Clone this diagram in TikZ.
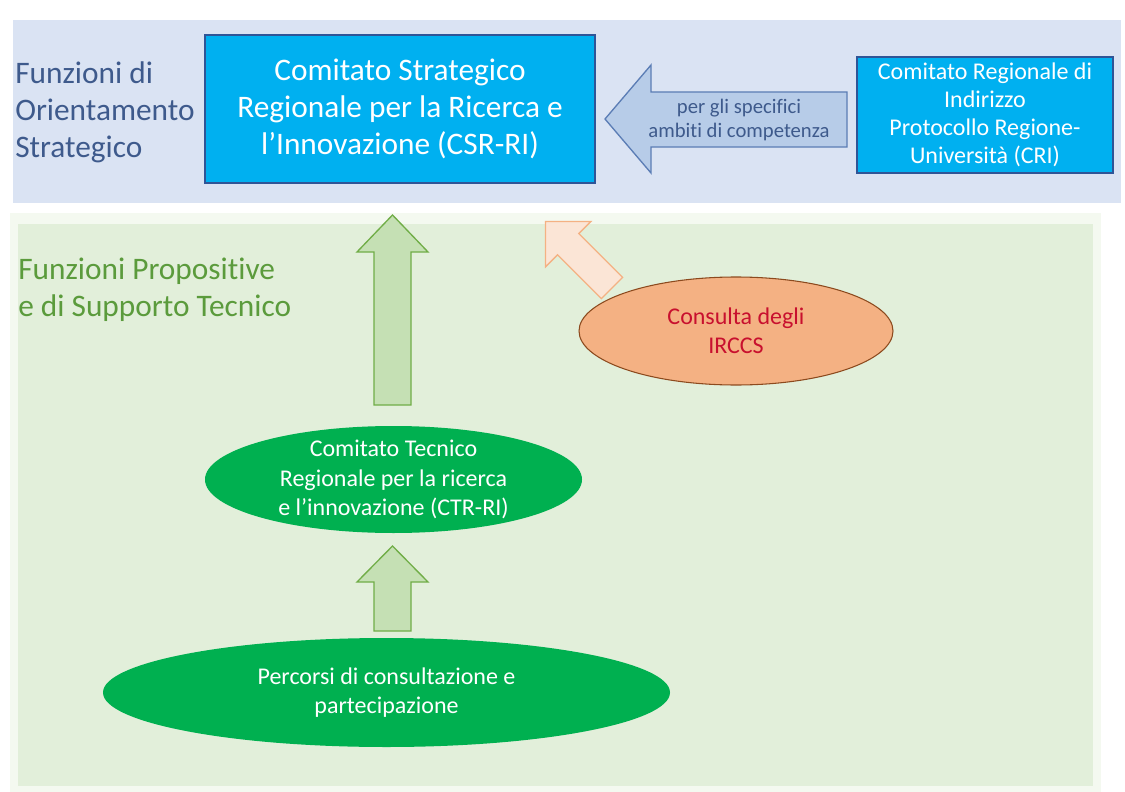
\documentclass[tikz,border=0pt]{standalone}
\usepackage{fontspec}
\setmainfont{Carlito}[Ligatures={NoCommon}]
\usetikzlibrary{shapes.geometric}
\definecolor{bandblue}{HTML}{DAE3F3}
\definecolor{boxblue}{HTML}{00B0F0}
\definecolor{boxedge}{HTML}{2F5597}
\definecolor{titleblue}{HTML}{3E5A8C}
\definecolor{arrowblue}{HTML}{B7CCE8}
\definecolor{arrowedge}{HTML}{5B7DB5}
\definecolor{bandgreen}{HTML}{E2EFDA}
\definecolor{rimgreen}{HTML}{F4F9F0}
\definecolor{titlegreen}{HTML}{5B9B3C}
\definecolor{arrowgreen}{HTML}{C5E0B4}
\definecolor{arrowgreenedge}{HTML}{70AD47}
\definecolor{ellgreen}{HTML}{00B050}
\definecolor{orangefill}{HTML}{F4B183}
\definecolor{orangeedge}{HTML}{8C4A1E}
\definecolor{peachfill}{HTML}{FBE5D6}
\definecolor{peachedge}{HTML}{F4B183}
\definecolor{darkred}{HTML}{C8102E}
\tikzset{
  bluebox/.style={draw=boxedge, line width=0.9pt, fill=boxblue, text=white, align=center, inner sep=0pt},
  bandtitle/.style={anchor=west, align=left, inner sep=0pt, font=\fontsize{23.5}{27.75}\selectfont},
  greenarrow/.style={draw=arrowgreenedge, fill=arrowgreen, line width=1pt, line join=miter},
  ellgreenshape/.style={ellipse, fill=ellgreen, inner sep=0pt},
  elltext/.style={align=center, inner sep=0pt, text=white, font=\fontsize{18}{22}\selectfont},
}
\begin{document}
\begin{tikzpicture}[x=0.75pt,y=-0.75pt]
\useasboundingbox (0,0) rectangle (1125,792);
\fill[white] (0,0) rectangle (1125,792);
% bands
\fill[bandblue] (13,20) rectangle (1121,203);
\fill[rimgreen] (10,213) rectangle (1101,792);
\fill[bandgreen] (18,224) rectangle (1093,786);

% titles
\node[bandtitle, text=titleblue] (toptitle) at (15,112) {Funzioni di\\Orientamento\\Strategico};
\node[bandtitle, text=titlegreen] (greentitle) at (18,290) {Funzioni Propositive\\e di Supporto Tecnico};

% top boxes
\node[bluebox, minimum width=292.5pt, minimum height=111pt, font=\fontsize{23.5}{27.75}\selectfont] (csr) at (400,109)
  {Comitato Strategico\\Regionale per la Ricerca e\\l’Innovazione (CSR-RI)};
\node[bluebox, minimum width=192pt, minimum height=87pt, font=\fontsize{18}{21}\selectfont] (cri) at (985,115)
  {Comitato Regionale di\\Indirizzo\\Protocollo Regione-\\Università (CRI)};

% left-pointing block arrow
\draw[draw=arrowedge, fill=arrowblue, line width=1pt, line join=miter]
  (605,119) -- (651,65) -- (651,92) -- (847,92) -- (847,147) -- (651,147) -- (651,173) -- cycle;
\node[align=center, inner sep=0pt, text=titleblue, font=\fontsize{15.5}{18}\selectfont] (ambiti) at (739,120)
  {per gli specifici\\ambiti di competenza};

% green up arrows
\draw[greenarrow] (392.5,215) -- (428,252) -- (411,252) -- (411,405) -- (374,405) -- (374,252) -- (357,252) -- cycle;
\draw[greenarrow] (392.5,546) -- (428,582) -- (411,582) -- (411,631) -- (374,631) -- (374,582) -- (357,582) -- cycle;

% orange diagonal arrow
\begin{scope}[shift={(612,288)}, rotate=135]
  \draw[draw=peachedge, fill=peachfill, line width=1pt, line join=miter]
    (0,-15) -- (62,-15) -- (62,-32) -- (94,0) -- (62,32) -- (62,15) -- (0,15) -- cycle;
\end{scope}

% ellipses
\node[ellipse, draw=orangeedge, line width=0.8pt, fill=orangefill, inner sep=0pt,
      minimum width=235.5pt, minimum height=81pt] (irccs) at (736,331) {};
\node[align=center, inner sep=0pt, text=darkred, font=\fontsize{18}{22}\selectfont] (irccstext) at (irccs.center)
  {Consulta degli\\IRCCS};

\node[ellgreenshape, minimum width=282.75pt, minimum height=80.25pt] (ctr) at (393.5,479.5) {};
\node[elltext] (ctrtext) at (ctr.center)
  {Comitato Tecnico\\Regionale per la ricerca\\e l’innovazione (CTR-RI)};

\node[ellgreenshape, minimum width=425.25pt, minimum height=81.75pt] (perc) at (386.5,692.5) {};
\node[elltext] (perctext) at (perc.center)
  {Percorsi di consultazione e\\partecipazione};
\end{tikzpicture}
\end{document}
